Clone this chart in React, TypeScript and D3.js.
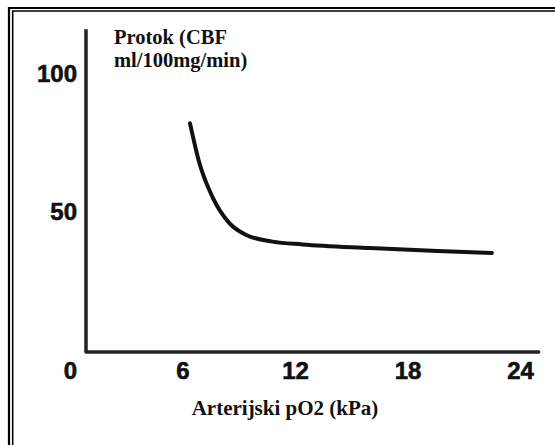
import { useEffect, useRef } from 'react';
import * as d3 from 'd3';

// pO2 (kPa) vs cerebral blood flow
const po2 = [6.4, 6.9, 7.6, 8.5, 9.4, 10.8, 12.4, 16.0, 19.6, 22.5];
const cbf = [82, 67.7, 55.4, 46, 41.7, 39.3, 38.3, 37.0, 35.9, 35.2];

const xTicks = [0, 6, 12, 18, 24];
const yTicks = [50, 100];

const titleLines = ['Protok (CBF', 'ml/100mg/min)'];
const xTitle = 'Arterijski pO2 (kPa)';

export default function App() {
  const svgRef = useRef<SVGSVGElement>(null);
  const width = 555;
  const height = 445;

  useEffect(() => {
    if (!svgRef.current) return;
    d3.select(svgRef.current).selectAll('*').remove();

    const svg = d3.select(svgRef.current)
      .attr('width', width)
      .attr('height', height);

    svg.append('rect')
      .attr('width', width)
      .attr('height', height)
      .attr('fill', '#fff');

    // double frame, top and left only
    const frame = svg.append('g').attr('stroke', '#000').attr('fill', 'none');
    frame.append('path').attr('d', `M9,${height} V8 H${width}`).attr('stroke-width', 2.2);
    frame.append('path').attr('d', `M12.7,${height} V11 H${width}`).attr('stroke-width', 1.6);

    const x = d3.scaleLinear().domain([0, 24]).range([70, 520]);
    const y = d3.scaleLinear().domain([0, 100]).range([350.5, 73.5]);

    const originX = 86;
    const originY = 352;

    // axis lines
    svg.append('line')
      .attr('x1', originX).attr('x2', originX)
      .attr('y1', y(116)).attr('y2', originY)
      .attr('stroke', '#222').attr('stroke-width', 3.5);
    svg.append('line')
      .attr('x1', originX).attr('x2', x(25))
      .attr('y1', originY).attr('y2', originY)
      .attr('stroke', '#222').attr('stroke-width', 3.5)
      .attr('stroke-linecap', 'round');

    const tickFont = '"Liberation Sans", Arial, sans-serif';

    const xAxis = svg.append('g')
      .attr('transform', `translate(0,${originY})`)
      .call(d3.axisBottom(x).tickValues(xTicks).tickSize(0).tickPadding(10.2).tickFormat(d3.format('d')));
    xAxis.select('.domain').remove();
    xAxis.selectAll('text')
      .attr('font-family', tickFont)
      .attr('font-size', 24)
      .attr('font-weight', 'bold')
      .attr('fill', '#111')
      .attr('stroke', '#111')
      .attr('stroke-width', 0.6);

    const yAxis = svg.append('g')
      .attr('transform', `translate(${originX},0)`)
      .call(d3.axisLeft(y).tickValues(yTicks).tickSize(0).tickPadding(9).tickFormat(d3.format('d')));
    yAxis.select('.domain').remove();
    yAxis.selectAll('text')
      .attr('font-family', tickFont)
      .attr('font-size', 24)
      .attr('font-weight', 'bold')
      .attr('fill', '#111')
      .attr('stroke', '#111')
      .attr('stroke-width', 0.6);

    // curve
    const pts = po2.map((v, i) => [v, cbf[i]] as [number, number]);
    const line = d3.line<[number, number]>()
      .x(d => x(d[0]))
      .y(d => y(d[1]))
      .curve(d3.curveMonotoneX);

    svg.append('path')
      .datum(pts)
      .attr('d', line)
      .attr('fill', 'none')
      .attr('stroke', '#111')
      .attr('stroke-width', 4)
      .attr('stroke-linecap', 'round');

    const serif = '"Liberation Serif", "Times New Roman", serif';

    // y title
    svg.append('g')
      .selectAll('text')
      .data(titleLines)
      .enter()
      .append('text')
      .attr('x', 114)
      .attr('y', (_, i) => 44 + i * 23)
      .attr('font-family', serif)
      .attr('font-size', 20.5)
      .attr('font-weight', 'bold')
      .attr('fill', '#111')
      .text(d => d);

    // x title
    svg.append('text')
      .attr('x', 285)
      .attr('y', 415)
      .attr('text-anchor', 'middle')
      .attr('font-family', serif)
      .attr('font-size', 21)
      .attr('font-weight', 'bold')
      .attr('fill', '#111')
      .text(xTitle);
  }, []);

  return (
    <svg ref={svgRef} style={{ position: 'absolute', left: 0, top: 0, display: 'block' }}></svg>
  );
}
